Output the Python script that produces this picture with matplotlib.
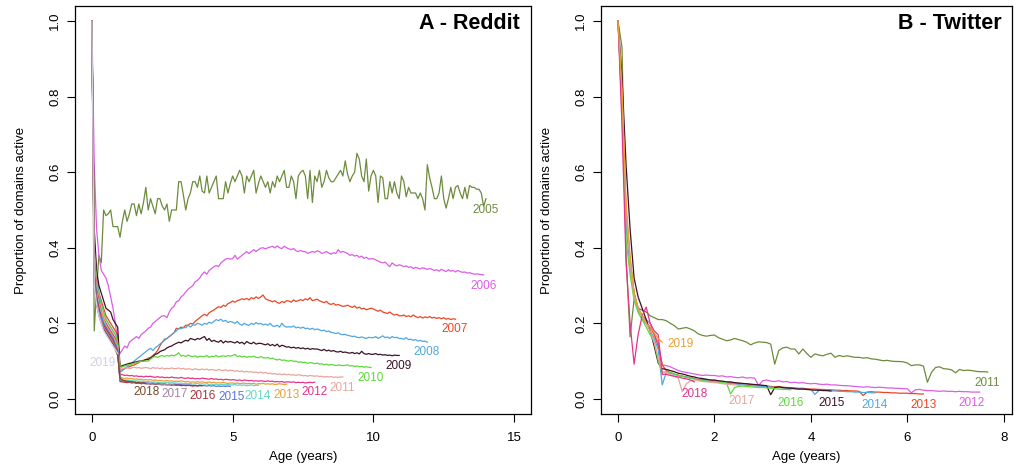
import numpy as np
import matplotlib
matplotlib.use("Agg")
import matplotlib.pyplot as plt

plt.rcParams['font.family'] = ['Liberation Sans', 'DejaVu Sans']

# monthly proportion of domains still active, by cohort (first row = age 0..11 months)
reddit_2005 = [1.00, 0.18, 0.29, 0.38, 0.36, 0.50, 0.485, 0.49, 0.50, 0.456, 0.456, 0.456,
               0.428, 0.47, 0.50, 0.47, 0.49, 0.516, 0.516, 0.485, 0.516, 0.49, 0.52, 0.56,
               0.50, 0.53, 0.51, 0.49, 0.53, 0.53, 0.51, 0.50, 0.516, 0.47, 0.50, 0.50,
               0.50, 0.575, 0.575, 0.54, 0.50, 0.53, 0.545, 0.575, 0.575, 0.56, 0.59, 0.55,
               0.545, 0.59, 0.545, 0.56, 0.575, 0.59, 0.53, 0.53, 0.53, 0.575, 0.545, 0.57,
               0.59, 0.575, 0.59, 0.605, 0.59, 0.545, 0.59, 0.575, 0.59, 0.605, 0.545, 0.57,
               0.59, 0.575, 0.56, 0.575, 0.545, 0.575, 0.56, 0.59, 0.575, 0.59, 0.605, 0.56,
               0.56, 0.59, 0.575, 0.53, 0.59, 0.60, 0.605, 0.59, 0.53, 0.605, 0.52, 0.59,
               0.575, 0.605, 0.56, 0.575, 0.605, 0.585, 0.575, 0.575, 0.585, 0.595, 0.605, 0.59,
               0.63, 0.595, 0.575, 0.59, 0.60, 0.65, 0.635, 0.59, 0.575, 0.635, 0.55, 0.59,
               0.605, 0.59, 0.52, 0.59, 0.585, 0.53, 0.53, 0.575, 0.545, 0.575, 0.545, 0.53,
               0.59, 0.575, 0.535, 0.56, 0.545, 0.545, 0.545, 0.53, 0.545, 0.53, 0.50, 0.62,
               0.585, 0.56, 0.53, 0.53, 0.545, 0.59, 0.53, 0.505, 0.53, 0.56, 0.53, 0.56,
               0.565, 0.545, 0.53, 0.56, 0.53, 0.565, 0.56, 0.56, 0.555, 0.555, 0.545, 0.51,
               0.53]
reddit_2006 = [1.00, 0.62, 0.45, 0.38, 0.34, 0.33, 0.32, 0.30, 0.27, 0.24, 0.20, 0.15,
               0.12, 0.13, 0.14, 0.135, 0.15, 0.155, 0.16, 0.165, 0.16, 0.17, 0.175, 0.18,
               0.187, 0.19, 0.20, 0.205, 0.21, 0.215, 0.22, 0.22, 0.215, 0.23, 0.24, 0.245,
               0.257, 0.26, 0.27, 0.275, 0.283, 0.29, 0.295, 0.30, 0.31, 0.314, 0.32, 0.33,
               0.336, 0.33, 0.34, 0.345, 0.35, 0.353, 0.35, 0.36, 0.365, 0.37, 0.372, 0.37,
               0.371, 0.38, 0.37, 0.375, 0.38, 0.385, 0.39, 0.385, 0.39, 0.395, 0.39, 0.395,
               0.399, 0.40, 0.397, 0.40, 0.402, 0.404, 0.40, 0.405, 0.40, 0.398, 0.404, 0.40,
               0.397, 0.395, 0.398, 0.392, 0.39, 0.393, 0.39, 0.39, 0.385, 0.388, 0.39, 0.388,
               0.392, 0.39, 0.385, 0.387, 0.39, 0.386, 0.383, 0.387, 0.385, 0.395, 0.388, 0.39,
               0.388, 0.385, 0.38, 0.382, 0.378, 0.38, 0.375, 0.378, 0.372, 0.375, 0.37, 0.371,
               0.371, 0.368, 0.365, 0.362, 0.36, 0.362, 0.356, 0.35, 0.36, 0.355, 0.352, 0.355,
               0.353, 0.35, 0.352, 0.348, 0.35, 0.345, 0.348, 0.346, 0.344, 0.347, 0.345, 0.343,
               0.345, 0.343, 0.34, 0.342, 0.338, 0.343, 0.34, 0.337, 0.342, 0.338, 0.34, 0.336,
               0.34, 0.337, 0.335, 0.336, 0.333, 0.334, 0.332, 0.33, 0.331, 0.33, 0.329, 0.328]
reddit_2007 = [1.00, 0.42, 0.33, 0.28, 0.26, 0.24, 0.22, 0.21, 0.20, 0.19, 0.18, 0.17,
               0.075, 0.078, 0.08, 0.083, 0.085, 0.088, 0.09, 0.093, 0.096, 0.10, 0.10, 0.104,
               0.108, 0.11, 0.115, 0.12, 0.128, 0.14, 0.15, 0.158, 0.16, 0.165, 0.17, 0.175,
               0.187, 0.185, 0.19, 0.188, 0.195, 0.195, 0.20, 0.198, 0.205, 0.21, 0.215, 0.22,
               0.224, 0.22, 0.228, 0.232, 0.235, 0.24, 0.244, 0.242, 0.248, 0.245, 0.252, 0.255,
               0.259, 0.256, 0.26, 0.262, 0.265, 0.263, 0.266, 0.262, 0.268, 0.265, 0.27, 0.266,
               0.27, 0.275, 0.265, 0.262, 0.26, 0.257, 0.26, 0.255, 0.253, 0.258, 0.255, 0.26,
               0.259, 0.256, 0.262, 0.258, 0.26, 0.263, 0.26, 0.265, 0.262, 0.268, 0.26, 0.262,
               0.264, 0.26, 0.257, 0.255, 0.258, 0.252, 0.25, 0.253, 0.248, 0.25, 0.247, 0.245,
               0.246, 0.248, 0.245, 0.242, 0.246, 0.24, 0.243, 0.238, 0.24, 0.236, 0.238, 0.24,
               0.238, 0.235, 0.232, 0.235, 0.23, 0.228, 0.226, 0.23, 0.225, 0.222, 0.224, 0.22,
               0.22, 0.222, 0.218, 0.22, 0.217, 0.222, 0.218, 0.215, 0.218, 0.214, 0.217, 0.215,
               0.218, 0.214, 0.216, 0.213, 0.215, 0.212, 0.215, 0.211, 0.213, 0.21, 0.212, 0.211]
reddit_2008 = [1.00, 0.40, 0.32, 0.28, 0.25, 0.23, 0.21, 0.20, 0.19, 0.18, 0.17, 0.16,
               0.07, 0.075, 0.08, 0.085, 0.09, 0.095, 0.10, 0.105, 0.11, 0.115, 0.12, 0.125,
               0.13, 0.134, 0.128, 0.135, 0.14, 0.145, 0.15, 0.155, 0.16, 0.165, 0.17, 0.175,
               0.18, 0.187, 0.185, 0.19, 0.188, 0.195, 0.19, 0.196, 0.195, 0.20, 0.198, 0.195,
               0.20, 0.198, 0.203, 0.20, 0.205, 0.21, 0.207, 0.211, 0.205, 0.208, 0.202, 0.205,
               0.203, 0.20, 0.205, 0.198, 0.195, 0.20, 0.196, 0.195, 0.20, 0.197, 0.202, 0.198,
               0.20, 0.196, 0.198, 0.195, 0.20, 0.193, 0.192, 0.195, 0.19, 0.20, 0.193, 0.19,
               0.191, 0.19, 0.193, 0.188, 0.19, 0.187, 0.19, 0.186, 0.187, 0.184, 0.187, 0.183,
               0.185, 0.183, 0.18, 0.182, 0.178, 0.18, 0.176, 0.175, 0.173, 0.175, 0.171, 0.17,
               0.171, 0.168, 0.167, 0.165, 0.166, 0.163, 0.162, 0.164, 0.162, 0.16, 0.163, 0.162,
               0.162, 0.165, 0.16, 0.163, 0.167, 0.162, 0.164, 0.16, 0.165, 0.162, 0.163, 0.16,
               0.16, 0.158, 0.162, 0.157, 0.158, 0.155, 0.157, 0.153, 0.155, 0.152, 0.153, 0.15]
reddit_2009 = [1.00, 0.45, 0.34, 0.30, 0.28, 0.26, 0.24, 0.235, 0.23, 0.21, 0.20, 0.19,
               0.085, 0.088, 0.09, 0.092, 0.094, 0.095, 0.097, 0.098, 0.10, 0.10, 0.102, 0.104,
               0.104, 0.108, 0.112, 0.118, 0.12, 0.125, 0.128, 0.13, 0.135, 0.138, 0.14, 0.144,
               0.147, 0.15, 0.148, 0.152, 0.155, 0.153, 0.16, 0.158, 0.156, 0.16, 0.158, 0.162,
               0.165, 0.155, 0.16, 0.152, 0.155, 0.152, 0.15, 0.155, 0.148, 0.153, 0.15, 0.152,
               0.15, 0.148, 0.152, 0.147, 0.15, 0.145, 0.152, 0.148, 0.146, 0.15, 0.145, 0.147,
               0.147, 0.145, 0.143, 0.146, 0.141, 0.144, 0.14, 0.145, 0.138, 0.142, 0.14, 0.137,
               0.138, 0.135, 0.137, 0.134, 0.136, 0.133, 0.135, 0.132, 0.134, 0.131, 0.133, 0.132,
               0.132, 0.13, 0.128, 0.131, 0.127, 0.129, 0.126, 0.128, 0.125, 0.124, 0.126, 0.123,
               0.124, 0.122, 0.121, 0.123, 0.12, 0.122, 0.119, 0.126, 0.12, 0.118, 0.12, 0.118,
               0.118, 0.12, 0.117, 0.118, 0.116, 0.117, 0.115, 0.116, 0.114, 0.116, 0.115, 0.115]
reddit_2010 = [1.00, 0.40, 0.31, 0.27, 0.25, 0.23, 0.21, 0.20, 0.19, 0.18, 0.17, 0.15,
               0.082, 0.085, 0.087, 0.089, 0.09, 0.092, 0.094, 0.096, 0.098, 0.10, 0.10, 0.10,
               0.10, 0.105, 0.11, 0.112, 0.11, 0.113, 0.115, 0.112, 0.115, 0.113, 0.116, 0.114,
               0.117, 0.122, 0.113, 0.115, 0.112, 0.116, 0.113, 0.112, 0.114, 0.11, 0.113, 0.112,
               0.112, 0.115, 0.11, 0.113, 0.112, 0.115, 0.111, 0.113, 0.114, 0.112, 0.115, 0.113,
               0.115, 0.118, 0.112, 0.114, 0.111, 0.113, 0.11, 0.112, 0.111, 0.113, 0.11, 0.109,
               0.112, 0.109, 0.108, 0.11, 0.106, 0.108, 0.105, 0.103, 0.105, 0.102, 0.103, 0.101,
               0.10, 0.102, 0.099, 0.10, 0.097, 0.098, 0.096, 0.097, 0.094, 0.096, 0.095, 0.093,
               0.095, 0.092, 0.093, 0.09, 0.092, 0.089, 0.091, 0.09, 0.088, 0.09, 0.089, 0.088,
               0.089, 0.09, 0.087, 0.088, 0.086, 0.087, 0.085, 0.086, 0.084, 0.085, 0.084, 0.083]
reddit_2011 = [1.00, 0.38, 0.30, 0.26, 0.24, 0.22, 0.20, 0.19, 0.18, 0.17, 0.16, 0.14,
               0.077, 0.08, 0.082, 0.083, 0.08, 0.082, 0.084, 0.082, 0.083, 0.081, 0.082, 0.083,
               0.082, 0.08, 0.083, 0.081, 0.082, 0.08, 0.082, 0.079, 0.081, 0.08, 0.082, 0.08,
               0.08, 0.082, 0.079, 0.081, 0.078, 0.08, 0.079, 0.077, 0.08, 0.078, 0.077, 0.079,
               0.077, 0.079, 0.076, 0.078, 0.077, 0.075, 0.078, 0.076, 0.075, 0.077, 0.074, 0.076,
               0.075, 0.073, 0.075, 0.072, 0.074, 0.071, 0.073, 0.071, 0.072, 0.07, 0.071, 0.069,
               0.071, 0.068, 0.07, 0.067, 0.068, 0.066, 0.067, 0.065, 0.066, 0.064, 0.066, 0.064,
               0.065, 0.063, 0.064, 0.062, 0.064, 0.063, 0.061, 0.062, 0.06, 0.062, 0.061, 0.06,
               0.061, 0.059, 0.06, 0.058, 0.059, 0.058, 0.059, 0.057, 0.058, 0.057, 0.058, 0.058]
reddit_2012 = [1.00, 0.37, 0.29, 0.26, 0.23, 0.21, 0.20, 0.19, 0.18, 0.17, 0.16, 0.14,
               0.065, 0.064, 0.062, 0.063, 0.061, 0.062, 0.06, 0.061, 0.059, 0.06, 0.058, 0.06,
               0.059, 0.06, 0.058, 0.057, 0.059, 0.057, 0.058, 0.056, 0.057, 0.056, 0.058, 0.056,
               0.056, 0.055, 0.057, 0.055, 0.054, 0.056, 0.054, 0.055, 0.053, 0.054, 0.053, 0.055,
               0.054, 0.053, 0.052, 0.054, 0.052, 0.053, 0.051, 0.052, 0.05, 0.052, 0.051, 0.05,
               0.051, 0.05, 0.049, 0.05, 0.048, 0.05, 0.049, 0.048, 0.049, 0.047, 0.048, 0.047,
               0.048, 0.047, 0.046, 0.048, 0.046, 0.047, 0.045, 0.046, 0.045, 0.046, 0.044, 0.045,
               0.045, 0.044, 0.045, 0.043, 0.044, 0.043, 0.044, 0.042, 0.043, 0.044, 0.043, 0.044]
reddit_2013 = [1.00, 0.36, 0.28, 0.25, 0.23, 0.21, 0.195, 0.185, 0.175, 0.165, 0.155, 0.14,
               0.057, 0.055, 0.054, 0.055, 0.053, 0.054, 0.052, 0.053, 0.051, 0.052, 0.05, 0.051,
               0.05, 0.051, 0.049, 0.05, 0.048, 0.049, 0.048, 0.047, 0.049, 0.047, 0.048, 0.046,
               0.047, 0.046, 0.048, 0.046, 0.045, 0.046, 0.044, 0.045, 0.044, 0.046, 0.044, 0.045,
               0.044, 0.043, 0.045, 0.043, 0.044, 0.042, 0.043, 0.042, 0.044, 0.042, 0.041, 0.042,
               0.042, 0.041, 0.042, 0.04, 0.041, 0.042, 0.04, 0.041, 0.04, 0.041, 0.039, 0.04,
               0.04, 0.041, 0.039, 0.04, 0.039, 0.04, 0.038, 0.039, 0.04, 0.039, 0.038, 0.039]
reddit_2014 = [1.00, 0.35, 0.28, 0.25, 0.22, 0.205, 0.19, 0.18, 0.17, 0.16, 0.15, 0.135,
               0.052, 0.05, 0.049, 0.05, 0.048, 0.049, 0.047, 0.048, 0.046, 0.047, 0.046, 0.045,
               0.046, 0.045, 0.044, 0.045, 0.043, 0.044, 0.043, 0.042, 0.044, 0.042, 0.043, 0.042,
               0.042, 0.041, 0.042, 0.04, 0.041, 0.04, 0.041, 0.039, 0.04, 0.041, 0.039, 0.04,
               0.039, 0.04, 0.038, 0.039, 0.038, 0.039, 0.037, 0.038, 0.039, 0.037, 0.038, 0.037,
               0.037, 0.038, 0.036, 0.037, 0.036, 0.037, 0.035, 0.036, 0.037, 0.035, 0.036, 0.036]
reddit_2015 = [1.00, 0.34, 0.27, 0.24, 0.22, 0.20, 0.19, 0.18, 0.17, 0.16, 0.145, 0.13,
               0.048, 0.047, 0.046, 0.045, 0.046, 0.044, 0.045, 0.043, 0.044, 0.042, 0.043, 0.042,
               0.042, 0.041, 0.042, 0.04, 0.041, 0.04, 0.039, 0.04, 0.038, 0.039, 0.038, 0.039,
               0.038, 0.037, 0.038, 0.036, 0.037, 0.036, 0.037, 0.035, 0.036, 0.035, 0.036, 0.035,
               0.035, 0.034, 0.035, 0.034, 0.035, 0.033, 0.034, 0.033, 0.034, 0.033, 0.034, 0.033]
reddit_2016 = [1.00, 0.33, 0.27, 0.24, 0.21, 0.195, 0.185, 0.175, 0.165, 0.155, 0.14, 0.125,
               0.046, 0.045, 0.044, 0.043, 0.044, 0.042, 0.043, 0.041, 0.042, 0.04, 0.041, 0.04,
               0.04, 0.039, 0.04, 0.038, 0.039, 0.038, 0.037, 0.038, 0.037, 0.038, 0.036, 0.037,
               0.036, 0.037, 0.035, 0.036, 0.035, 0.036, 0.035, 0.034, 0.035, 0.034, 0.035, 0.035]
reddit_2017 = [1.00, 0.32, 0.26, 0.23, 0.21, 0.19, 0.18, 0.17, 0.16, 0.15, 0.135, 0.12,
               0.05, 0.048, 0.047, 0.046, 0.045, 0.044, 0.044, 0.043, 0.042, 0.042, 0.041, 0.041,
               0.04, 0.04, 0.039, 0.04, 0.039, 0.038, 0.039, 0.038, 0.038, 0.037, 0.038, 0.037]
reddit_2018 = [1.00, 0.31, 0.25, 0.22, 0.20, 0.185, 0.175, 0.165, 0.155, 0.145, 0.13, 0.115,
               0.055, 0.05, 0.048, 0.047, 0.046, 0.045, 0.044, 0.043, 0.043, 0.042, 0.042, 0.041]
reddit_2019 = [1.00, 0.30, 0.25, 0.22, 0.20, 0.18, 0.17, 0.16, 0.15, 0.14, 0.13, 0.12]

twitter_2011 = [1.00, 0.93, 0.38, 0.164, 0.264, 0.24, 0.235, 0.23, 0.22, 0.215, 0.21, 0.21,
                0.207, 0.20, 0.194, 0.185, 0.187, 0.189, 0.185, 0.18, 0.172, 0.168, 0.166, 0.168,
                0.169, 0.162, 0.158, 0.154, 0.156, 0.16, 0.157, 0.154, 0.15, 0.143, 0.148, 0.151,
                0.15, 0.149, 0.145, 0.092, 0.128, 0.135, 0.137, 0.132, 0.132, 0.119, 0.132, 0.12,
                0.11, 0.119, 0.116, 0.114, 0.118, 0.121, 0.11, 0.115, 0.112, 0.114, 0.112, 0.11,
                0.11, 0.108, 0.109, 0.106, 0.105, 0.103, 0.101, 0.102, 0.10, 0.099, 0.099, 0.098,
                0.095, 0.088, 0.09, 0.09, 0.087, 0.044, 0.07, 0.083, 0.085, 0.08, 0.079, 0.077,
                0.069, 0.078, 0.075, 0.076, 0.075, 0.073, 0.072, 0.072, 0.071]
twitter_2012 = [1.00, 0.78, 0.48, 0.36, 0.28, 0.24, 0.22, 0.21, 0.20, 0.17, 0.15, 0.09,
                0.088, 0.085, 0.08, 0.075, 0.072, 0.07, 0.068, 0.066, 0.064, 0.062, 0.063, 0.062,
                0.062, 0.06, 0.061, 0.058, 0.059, 0.057, 0.056, 0.058, 0.055, 0.056, 0.055, 0.035,
                0.048, 0.05, 0.047, 0.046, 0.048, 0.045, 0.046, 0.043, 0.044, 0.042, 0.043, 0.041,
                0.04, 0.041, 0.039, 0.038, 0.039, 0.037, 0.037, 0.036, 0.035, 0.035, 0.034, 0.033,
                0.032, 0.031, 0.032, 0.031, 0.03, 0.031, 0.03, 0.029, 0.029, 0.028, 0.028, 0.027,
                0.027, 0.016, 0.024, 0.025, 0.023, 0.022, 0.022, 0.021, 0.02, 0.021, 0.02, 0.02,
                0.019, 0.02, 0.019, 0.019, 0.018, 0.018, 0.018]
twitter_2013 = [1.00, 0.80, 0.50, 0.37, 0.28, 0.24, 0.22, 0.20, 0.19, 0.17, 0.14, 0.09,
                0.075, 0.07, 0.066, 0.063, 0.06, 0.058, 0.056, 0.054, 0.05, 0.052, 0.05, 0.049,
                0.048, 0.046, 0.045, 0.044, 0.043, 0.042, 0.041, 0.04, 0.04, 0.038, 0.037, 0.036,
                0.035, 0.034, 0.033, 0.032, 0.032, 0.031, 0.03, 0.03, 0.029, 0.028, 0.028, 0.027,
                0.026, 0.026, 0.025, 0.025, 0.024, 0.024, 0.023, 0.023, 0.022, 0.022, 0.021, 0.021,
                0.02, 0.009, 0.018, 0.019, 0.018, 0.018, 0.017, 0.017, 0.016, 0.016, 0.015, 0.015,
                0.015, 0.014, 0.014, 0.013, 0.013]
twitter_2014 = [1.00, 0.78, 0.46, 0.35, 0.27, 0.23, 0.21, 0.20, 0.18, 0.16, 0.13, 0.037,
                0.07, 0.068, 0.065, 0.062, 0.06, 0.058, 0.055, 0.053, 0.05, 0.05, 0.048, 0.047,
                0.046, 0.044, 0.043, 0.042, 0.041, 0.04, 0.038, 0.037, 0.036, 0.035, 0.034, 0.034,
                0.033, 0.032, 0.031, 0.03, 0.03, 0.029, 0.028, 0.028, 0.027, 0.026, 0.026, 0.025,
                0.025, 0.012, 0.022, 0.023, 0.022, 0.021, 0.021, 0.02, 0.02, 0.019, 0.019, 0.018,
                0.018, 0.017, 0.017, 0.016, 0.016]
twitter_2015 = [1.00, 0.85, 0.62, 0.45, 0.32, 0.27, 0.24, 0.21, 0.18, 0.14, 0.095, 0.08,
                0.078, 0.075, 0.072, 0.068, 0.066, 0.063, 0.06, 0.058, 0.055, 0.054, 0.052, 0.05,
                0.05, 0.048, 0.047, 0.045, 0.045, 0.043, 0.042, 0.041, 0.04, 0.039, 0.038, 0.037,
                0.036, 0.035, 0.011, 0.03, 0.032, 0.03, 0.029, 0.028, 0.027, 0.026, 0.026, 0.025,
                0.024, 0.023, 0.023, 0.022, 0.022, 0.021]
twitter_2016 = [1.00, 0.75, 0.42, 0.33, 0.26, 0.23, 0.21, 0.19, 0.17, 0.15, 0.10, 0.07,
                0.072, 0.07, 0.066, 0.062, 0.06, 0.057, 0.055, 0.052, 0.05, 0.048, 0.047, 0.046,
                0.045, 0.044, 0.043, 0.042, 0.013, 0.03, 0.033, 0.034, 0.033, 0.032, 0.031, 0.03,
                0.03, 0.029, 0.028, 0.027, 0.026, 0.025, 0.025, 0.024]
twitter_2017 = [1.00, 0.80, 0.50, 0.36, 0.27, 0.24, 0.22, 0.20, 0.18, 0.15, 0.11, 0.07,
                0.07, 0.065, 0.06, 0.055, 0.019, 0.04, 0.048, 0.05, 0.048, 0.046, 0.045, 0.044,
                0.043, 0.042, 0.04, 0.039, 0.038, 0.037, 0.036, 0.035]
twitter_2018 = [1.00, 0.72, 0.36, 0.20, 0.092, 0.17, 0.22, 0.243, 0.20, 0.18, 0.17, 0.065,
                0.065, 0.062, 0.06, 0.058, 0.055, 0.053, 0.05, 0.045]
twitter_2019 = [1.00, 0.82, 0.52, 0.38, 0.28, 0.24, 0.22, 0.20, 0.19, 0.175, 0.16, 0.15]

reddit_years = [2005, 2006, 2007, 2008, 2009, 2010, 2011, 2012, 2013, 2014, 2015, 2016, 2017, 2018, 2019]
twitter_years = [2011, 2012, 2013, 2014, 2015, 2016, 2017, 2018, 2019]

# where the cohort labels sit (age, proportion)
reddit_label_x = [14.0, 13.9, 12.9, 11.9, 10.9, 9.9, 8.9, 7.9, 6.9, 5.9, 4.95, 3.95, 2.95, 1.95, 0.39]
reddit_label_y = [0.50, 0.30, 0.184, 0.124, 0.087, 0.055, 0.03, 0.018, 0.01, 0.008, 0.005, 0.008, 0.013, 0.018, 0.094]
twitter_label_x = [7.66, 7.34, 6.33, 5.33, 4.42, 3.58, 2.57, 1.58, 1.29]
twitter_label_y = [0.042, -0.011, -0.016, -0.016, -0.011, -0.011, -0.005, 0.013, 0.145]

palette = ["#6E8B3D", "#DD5CE8", "#EE4422", "#4FA8E0", "#3B1228", "#5ED93A", "#E9A49C",
           "#E8338A", "#E8A033", "#66D5C2", "#5577E8", "#A8323E", "#A584A8", "#7A4A2A", "#D5CFE6"]

reddit_series = [reddit_2005, reddit_2006, reddit_2007, reddit_2008, reddit_2009, reddit_2010,
                 reddit_2011, reddit_2012, reddit_2013, reddit_2014, reddit_2015, reddit_2016,
                 reddit_2017, reddit_2018, reddit_2019]
twitter_series = [twitter_2011, twitter_2012, twitter_2013, twitter_2014, twitter_2015,
                  twitter_2016, twitter_2017, twitter_2018, twitter_2019]


def draw_panel(ax, series, years, lab_x, lab_y, title, xlim, xticks):
    for i, vals in enumerate(series):
        age = np.arange(len(vals)) / 12.0
        ax.plot(age, vals, color=palette[i], lw=0.9)
    for i, yr in enumerate(years):
        ax.text(lab_x[i], lab_y[i], str(yr), color=palette[i], fontsize=8.5,
                ha='center', va='center')
    ax.set_xlim(*xlim)
    ax.set_ylim(-0.04, 1.04)
    ax.set_xticks(xticks)
    ax.set_yticks([0.0, 0.2, 0.4, 0.6, 0.8, 1.0])
    ax.set_yticklabels(['0.0', '0.2', '0.4', '0.6', '0.8', '1.0'], rotation=90, va='center')
    ax.tick_params(direction='out', length=6, width=0.8, labelsize=9.5, pad=4)
    ax.tick_params(axis='x', pad=7)
    for sp in ax.spines.values():
        sp.set_linewidth(0.9)
    ax.set_xlabel('Age (years)', fontsize=9.5, labelpad=5)
    ax.set_ylabel('Proportion of domains active', fontsize=9.5, labelpad=16)
    ax.text(0.975, 0.958, title, transform=ax.transAxes, ha='right', va='center',
            fontsize=15.5, fontweight='bold')


fig = plt.figure(figsize=(10.19, 4.66), dpi=100)
ax1 = fig.add_axes([0.0736, 0.1116, 0.4475, 0.8755])
ax2 = fig.add_axes([0.5898, 0.1116, 0.4033, 0.8755])

draw_panel(ax1, reddit_series, reddit_years, reddit_label_x, reddit_label_y,
           'A - Reddit', (-0.6, 15.6), [0, 5, 10, 15])
draw_panel(ax2, twitter_series, twitter_years, twitter_label_x, twitter_label_y,
           'B - Twitter', (-0.353, 8.17), [0, 2, 4, 6, 8])

fig.savefig('out.png', dpi=100)
